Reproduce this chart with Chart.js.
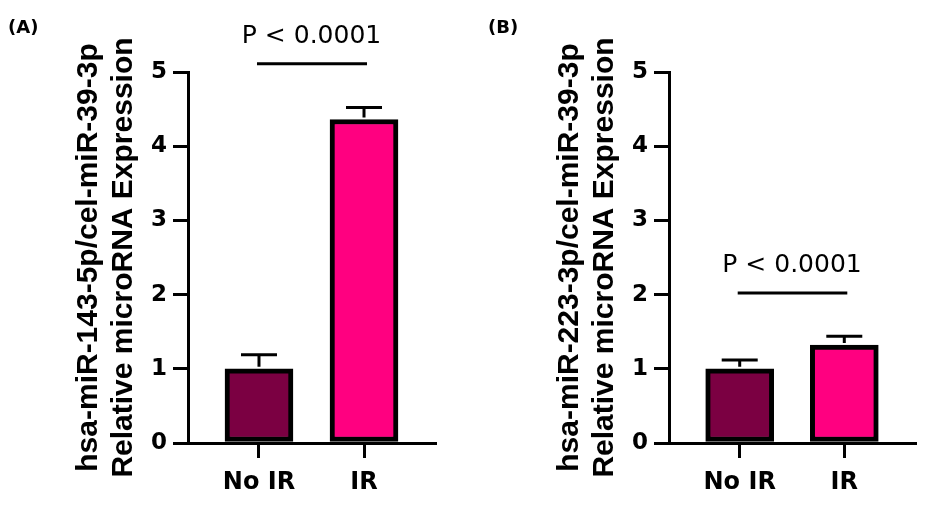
<!DOCTYPE html>
<html><head><meta charset="utf-8">
<script src="https://cdn.jsdelivr.net/npm/chart.js@4.4.1/dist/chart.umd.min.js"></script>
<style>
html,body{margin:0;padding:0;background:#fff;}
#wrap{position:relative;width:927px;height:505px;overflow:hidden;background:#fff;}
canvas{position:absolute;top:0;}
#cA{left:0;} #cB{left:463px;}
</style></head><body>
<div id="wrap"><canvas id="cA" width="463" height="505"></canvas><canvas id="cB" width="464" height="505"></canvas></div>
<script>
// ---- data ----
const categories = ['No IR', 'IR'];
const yTicks = [0, 1, 2, 3, 4, 5];
const panelLabels = ['(A)', '(B)'];
const yTitleA = ['hsa-miR-143-5p/cel-miR-39-3p', 'Relative microRNA Expression'];
const yTitleB = ['hsa-miR-223-3p/cel-miR-39-3p', 'Relative microRNA Expression'];
const meansA = [1.00, 4.36];
const errorsA = [0.19, 0.16];
const meansB = [1.00, 1.32];
const errorsB = [0.12, 0.12];
const pTextA = 'P < 0.0001';
const pTextB = 'P < 0.0001';
const sigLevelA = 5.11;
const sigLevelB = 2.02;
const barColors = ['#7b0042', '#ff0080'];

// ---- plugin: error bars, significance bar, panel label ----
const annotPlugin = {
  id: 'annot',
  afterDatasetsDraw(chart, args, opts) {
    const ctx = chart.ctx, ys = chart.scales.y;
    const meta = chart.getDatasetMeta(0);
    ctx.save();
    ctx.strokeStyle = '#000';
    ctx.lineWidth = 3;
    ctx.lineCap = 'butt';
    meta.data.forEach((bar, i) => {
      const x = bar.x;
      const y0 = ys.getPixelForValue(opts.means[i]);
      const y1 = ys.getPixelForValue(opts.means[i] + opts.errors[i]);
      ctx.beginPath();
      ctx.moveTo(x, y0 - 2);
      ctx.lineTo(x, y1);
      ctx.moveTo(x - 18, y1);
      ctx.lineTo(x + 18, y1);
      ctx.stroke();
    });
    ctx.restore();
  },
  afterDraw(chart, args, opts) {
    const ctx = chart.ctx, xs = chart.scales.x, ys = chart.scales.y;
    const xa = xs.getPixelForValue(0), xb = xs.getPixelForValue(1);
    const y = ys.getPixelForValue(opts.sigLevel);
    ctx.save();
    ctx.strokeStyle = '#000';
    ctx.lineWidth = 3;
    ctx.beginPath();
    ctx.moveTo(xa - 2, y);
    ctx.lineTo(xb + 3, y);
    ctx.stroke();
    ctx.fillStyle = '#000';
    ctx.font = '25px "DejaVu Sans"';
    ctx.textAlign = 'center';
    ctx.textBaseline = 'alphabetic';
    ctx.fillText(opts.pText, (xa + xb) / 2, y - 21);
    ctx.font = 'bold 18px "DejaVu Sans"';
    ctx.textAlign = 'left';
    ctx.fillText(opts.panelLabel, opts.labelX, 33);
    ctx.restore();
  }
};

function makeChart(id, c) {
  return new Chart(document.getElementById(id), {
    type: 'bar',
    data: {
      datasets: [{
        data: c.means.map((v, i) => ({ x: i, y: v })),
        backgroundColor: barColors,
        borderColor: '#000',
        borderWidth: 5,
        borderSkipped: false,
        barThickness: 68
      }]
    },
    options: {
      responsive: false,
      animation: false,
      layout: { padding: { top: 72, left: c.padLeft, right: c.padRight, bottom: 0 } },
      plugins: {
        legend: { display: false },
        tooltip: { enabled: false },
        annot: { means: c.means, errors: c.errors, sigLevel: c.sigLevel, pText: c.pText, panelLabel: c.panelLabel, labelX: c.labelX }
      },
      scales: {
        x: {
          type: 'linear', min: -0.676, max: 1.676, offset: false,
          afterBuildTicks: s => { s.ticks = categories.map((_, i) => ({ value: i })); },
          afterFit: s => { s.height = 62; },
          ticks: { callback: v => categories[v], font: { family: 'DejaVu Sans', weight: 'bold', size: 24 }, color: '#000', padding: 10, maxRotation: 0, autoSkip: false },
          grid: { display: true, offset: false, drawOnChartArea: false, drawTicks: true, tickLength: 15, tickWidth: 3, tickColor: '#000', lineWidth: 3, color: '#000' },
          border: { display: true, width: 3, color: '#000' }
        },
        y: {
          min: 0, max: 5,
          afterBuildTicks: s => { s.ticks = yTicks.map(v => ({ value: v })); },
          afterFit: s => { s.width = 128; },
          ticks: { font: { family: 'DejaVu Sans', weight: 'bold', size: 23 }, color: '#000', padding: 6 },
          grid: { display: true, drawOnChartArea: false, drawTicks: true, tickLength: 15, tickWidth: 3, tickColor: '#000', lineWidth: 3, color: '#000' },
          border: { display: true, width: 3, color: '#000' },
          title: { display: true, text: c.title, color: '#000', font: { family: 'Liberation Sans', weight: 'bold', size: 30, lineHeight: '35px' }, padding: { top: 11, bottom: 0 } }
        }
      }
    },
    plugins: [annotPlugin]
  });
}

makeChart('cA', { means: meansA, errors: errorsA, sigLevel: sigLevelA, pText: pTextA, panelLabel: panelLabels[0], labelX: 8, title: yTitleA, padLeft: 60, padRight: 28 });
makeChart('cB', { means: meansB, errors: errorsB, sigLevel: sigLevelB, pText: pTextB, panelLabel: panelLabels[1], labelX: 25, title: yTitleB, padLeft: 78, padRight: 12 });
</script>
</body></html>
